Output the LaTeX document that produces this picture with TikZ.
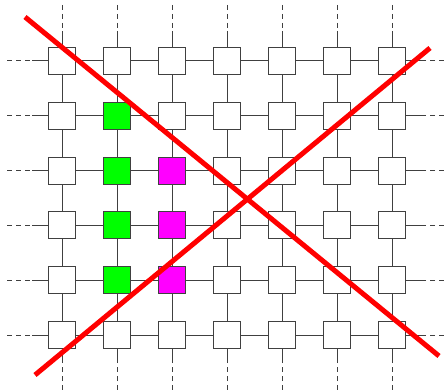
\documentclass[tikz,border=0pt]{standalone}
\definecolor{mymag}{RGB}{255,0,255}
\definecolor{mygreen}{RGB}{0,255,0}
\begin{document}
\begin{tikzpicture}[x=1pt,y=-1pt,
  sq/.style={draw=black!75,line width=1.1pt,fill=white,minimum size=27pt,inner sep=0pt,outer sep=0pt},
  gsq/.style={sq,fill=mygreen},
  msq/.style={sq,fill=mymag},
  edge/.style={draw=black!75,line width=1pt},
  dashedge/.style={draw=black!75,line width=1pt,dash pattern=on 5pt off 4pt},
  cross/.style={draw=red,line width=5pt}]
\useasboundingbox (0,0) rectangle (444,390);
% nodes
\foreach \i in {1,...,7}{
  \foreach \j in {1,...,6}{
    \node[sq] (n\i\j) at ({62+55*(\i-1)},{61+54.8*(\j-1)}) {};
  }
}
\foreach \j in {2,3,4,5}{\node[gsq] at (n2\j) {};}
\foreach \j in {3,4,5}{\node[msq] at (n3\j) {};}
% grid edges
\foreach \i in {1,...,6}{
  \pgfmathtruncatemacro{\k}{\i+1}
  \foreach \j in {1,...,6}{
    \draw[edge] (n\i\j.east) -- (n\k\j.west);
  }
}
\foreach \i in {1,...,7}{
  \foreach \j in {1,...,5}{
    \pgfmathtruncatemacro{\k}{\j+1}
    \draw[edge] (n\i\j.south) -- (n\i\k.north);
  }
}
% boundary half-edges
\foreach \i in {1,...,7}{
  \coordinate (ta\i) at ({62+55*(\i-1)},5);
  \coordinate (tb\i) at ({62+55*(\i-1)},31);
  \draw[dashedge] (ta\i) -- (tb\i);
  \draw[edge] (tb\i) -- (n\i1.north);
  \coordinate (ba\i) at ({62+55*(\i-1)},390);
  \coordinate (bb\i) at ({62+55*(\i-1)},361);
  \draw[dashedge] (ba\i) -- (bb\i);
  \draw[edge] (bb\i) -- (n\i6.south);
}
\foreach \j in {1,...,6}{
  \coordinate (la\j) at (7,{61+54.8*(\j-1)});
  \coordinate (lb\j) at (32,{61+54.8*(\j-1)});
  \draw[dashedge] (la\j) -- (lb\j);
  \draw[edge] (lb\j) -- (n1\j.west);
  \coordinate (ra\j) at (444,{61+54.8*(\j-1)});
  \coordinate (rb\j) at (422,{61+54.8*(\j-1)});
  \draw[dashedge] (ra\j) -- (rb\j);
  \draw[edge] (rb\j) -- (n7\j.east);
}
% red cross
\coordinate (c1a) at (25,17);
\coordinate (c1b) at (439,356);
\coordinate (c2a) at (35,375);
\coordinate (c2b) at (430,48);
\draw[cross] (c1a) -- (c1b);
\draw[cross] (c2a) -- (c2b);
\end{tikzpicture}
\end{document}
